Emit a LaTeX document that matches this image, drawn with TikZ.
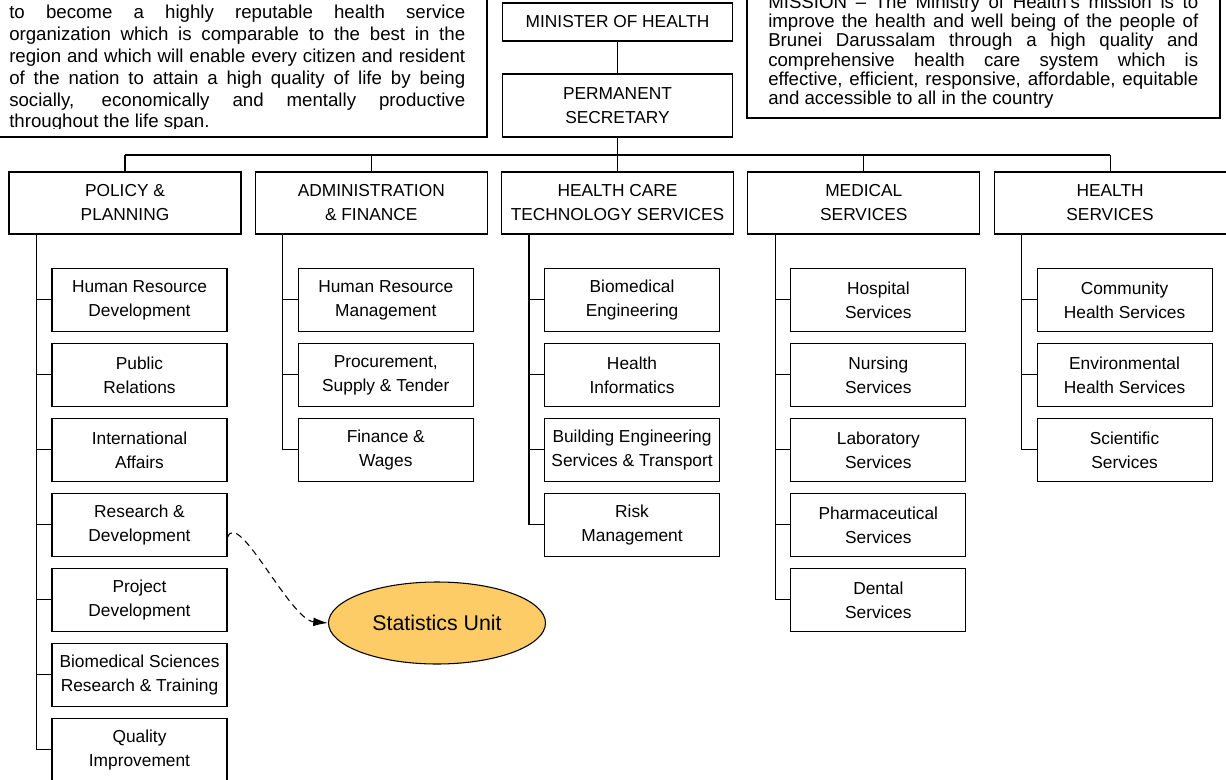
\documentclass[tikz,border=0pt]{standalone}
\usepackage{fontspec}
\setmainfont{Liberation Sans}
\usetikzlibrary{arrows.meta,shapes.geometric,positioning}
\definecolor{statfill}{RGB}{253,204,102}

\tikzset{
  org/.style={draw, line width=0.8pt, align=center, inner sep=0pt, font=\fontsize{13}{18}\selectfont},
  head/.style={org, minimum width=174pt, minimum height=46.5pt},
  unit/.style={org, minimum width=131.25pt, minimum height=47.25pt},
  link/.style={line width=0.8pt},
  textbox/.style={inner sep=0pt, align=justify, anchor=base west}
}

\begin{document}
\begin{tikzpicture}[x=0.75pt,y=-0.75pt]
\path[use as bounding box] (0,0) rectangle (1226,780);
\fill[white] (0,0) rectangle (1226,780);
\clip (0,0) rectangle (1226,780);

% vision and mission boxes, cut at the top
\begin{scope}
\clip (-20,-40) rectangle (487,129);
\node[textbox, text width=342pt, font=\fontsize{14}{16.35}\selectfont] (vision) at (9,19) {to become a highly reputable health service\linebreak organization which is comparable to the best in the\linebreak region and which will enable every citizen and resident\linebreak of the nation to attain a high quality of life by being\linebreak socially, economically and mentally productive\linebreak throughout the life span.};
\end{scope}
\draw[link] (-20,-40) rectangle (487,137);
\begin{scope}
\clip (747,-40) rectangle (1220,110);
\node[textbox, text width=322.5pt, font=\fontsize{14}{14.4}\selectfont] (mission) at (768,8.5) {MISSION -- The Ministry of Health's mission is to\linebreak improve the health and well being of the people of\linebreak Brunei Darussalam through a high quality and\linebreak comprehensive health care system which is\linebreak effective, efficient, responsive, affordable, equitable\linebreak and accessible to all in the country};
\end{scope}
\draw[link] (747,-40) rectangle (1220,118);

% top of the chart
\node[org, minimum width=172.5pt, minimum height=28.5pt] (min) at (617.5,22) {MINISTER OF HEALTH};
\node[org, minimum width=172.5pt, minimum height=47.25pt] (sec) at (617.5,105.5) {PERMANENT\\SECRETARY};

% departments
\node[head] (pol) at (125,203) {POLICY \&\\PLANNING};
\node[head, right=9.9pt of pol] (adm) {ADMINISTRATION\\\& FINANCE};
\node[head, right=9.9pt of adm] (hcts) {HEALTH CARE\\TECHNOLOGY SERVICES};
\node[head, right=9.9pt of hcts] (med) {MEDICAL\\SERVICES};
\node[head, right=9.9pt of med] (hlth) {HEALTH\\SERVICES};
\coordinate (bus) at (617.5,155);

% units
\node[unit, below=25pt of pol, xshift=10.875pt] (p1) {Human Resource\\Development};
\node[unit, below=8.2pt of p1] (p2) {Public\\Relations};
\node[unit, below=8.2pt of p2] (p3) {International\\Affairs};
\node[unit, below=8.2pt of p3] (p4) {Research \&\\Development};
\node[unit, below=8.2pt of p4] (p5) {Project\\Development};
\node[unit, below=8.2pt of p5] (p6) {Biomedical Sciences\\Research \& Training};
\node[unit, below=8.2pt of p6] (p7) {Quality\\Improvement};

\node[unit, below=25pt of adm, xshift=10.875pt] (a1) {Human Resource\\Management};
\node[unit, below=8.2pt of a1] (a2) {Procurement,\\Supply \& Tender};
\node[unit, below=8.2pt of a2] (a3) {Finance \&\\Wages};

\node[unit, below=25pt of hcts, xshift=10.875pt] (t1) {Biomedical\\Engineering};
\node[unit, below=8.2pt of t1] (t2) {Health\\Informatics};
\node[unit, below=8.2pt of t2] (t3) {Building Engineering\\Services \& Transport};
\node[unit, below=8.2pt of t3] (t4) {Risk\\Management};

\node[unit, below=25pt of med, xshift=10.875pt] (m1) {Hospital\\Services};
\node[unit, below=8.2pt of m1] (m2) {Nursing\\Services};
\node[unit, below=8.2pt of m2] (m3) {Laboratory\\Services};
\node[unit, below=8.2pt of m3] (m4) {Pharmaceutical\\Services};
\node[unit, below=8.2pt of m4] (m5) {Dental\\Services};

\node[unit, below=25pt of hlth, xshift=10.875pt] (h1) {Community\\Health Services};
\node[unit, below=8.2pt of h1] (h2) {Environmental\\Health Services};
\node[unit, below=8.2pt of h2] (h3) {Scientific\\Services};

\node[ellipse, draw, line width=0.8pt, fill=statfill, inner sep=0pt, minimum width=162.75pt, minimum height=61.5pt, font=\fontsize{16}{19}\selectfont] (stat) at (437,623) {Statistics Unit};

% connectors
\draw[link] (min) -- (sec);
\draw[link] (sec) -- (bus);
\draw[link] (pol.north |- bus) -- (hlth.north |- bus);
\foreach \h in {pol,adm,hcts,med,hlth}
  \draw[link] (\h.north) -- (\h.north |- bus);
\foreach \n in {1,...,7}
  \draw[link] ([xshift=21pt]pol.south west) |- (p\n.west);
\foreach \n in {1,...,3}
  \draw[link] ([xshift=21pt]adm.south west) |- (a\n.west);
\foreach \n in {1,...,4}
  \draw[link] ([xshift=21pt]hcts.south west) |- (t\n.west);
\foreach \n in {1,...,5}
  \draw[link] ([xshift=21pt]med.south west) |- (m\n.west);
\foreach \n in {1,...,3}
  \draw[link] ([xshift=21pt]hlth.south west) |- (h\n.west);
\draw[link, dash pattern=on 5pt off 3.5pt, -{Latex[length=11pt,width=6.5pt]}] ([yshift=-9.4pt]p4.east) .. controls (238,508) and (290,620) .. (stat.west);
\end{tikzpicture}
\end{document}
